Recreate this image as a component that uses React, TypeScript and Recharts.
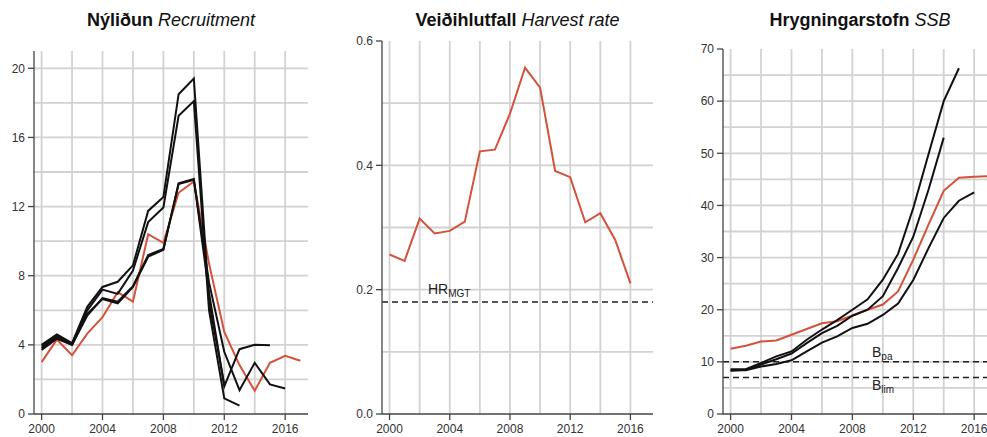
import React from "react";
import { LineChart, Line, XAxis, YAxis, CartesianGrid, ReferenceLine } from "recharts";

const years = [2000, 2001, 2002, 2003, 2004, 2005, 2006, 2007, 2008, 2009, 2010, 2011, 2012, 2013, 2014, 2015, 2016, 2017];
const xTicks = [2000, 2004, 2008, 2012, 2016];
const xGrid = [2000, 2002, 2004, 2006, 2008, 2010, 2012, 2014, 2016];

// Nýliðun / Recruitment (red = current assessment, black = retrospective runs)
const recruitment = [3.0, 4.3, 3.4, 4.65, 5.6, 7.05, 6.5, 10.4, 9.9, 12.8, 13.45, 8.7, 4.75, 2.83, 1.35, 2.96, 3.36, 3.08];
const recruitRetro2012 = [4.0, 4.6, 4.1, 6.2, 7.35, 7.65, 8.6, 11.75, 12.55, 18.5, 19.4, 6.5, 1.7];
const recruitRetro2013 = [3.9, 4.5, 4.05, 6.0, 7.2, 6.95, 8.3, 11.1, 11.95, 17.25, 18.1, 6.0, 0.9, 0.48];
const recruitRetro2015 = [3.8, 4.4, 4.0, 5.8, 6.65, 6.4, 7.35, 9.1, 9.5, 13.35, 13.6, 7.0, 1.6, 3.75, 4.0, 3.98];
const recruitRetro2016 = [3.7, 4.35, 4.0, 5.7, 6.7, 6.5, 7.4, 9.2, 9.55, 13.3, 13.55, 7.6, 3.6, 1.38, 2.96, 1.71, 1.48];
const recruitTicks = [0, 4, 8, 12, 16, 20];
const recruitGrid = [2, 4, 6, 8, 10, 12, 14, 16, 18, 20];

// Veiðihlutfall / Harvest rate
const harvestRate = [0.2565, 0.2463, 0.3143, 0.2903, 0.2945, 0.3095, 0.4225, 0.4252, 0.483, 0.557, 0.525, 0.391, 0.381, 0.3084, 0.323, 0.2795, 0.21];
const hrMgt = 0.18;
const harvestTicks = [0, 0.2, 0.4, 0.6];
const harvestGrid = [0.1, 0.2, 0.3, 0.4, 0.5];

// Hrygningarstofn / SSB
const ssb = [12.5, 13.1, 13.9, 14.1, 15.2, 16.3, 17.4, 17.8, 18.9, 20.0, 21.0, 23.5, 29.6, 36.3, 42.8, 45.3, 45.5, 45.6];
const ssbRetro2014 = [8.3, 8.5, 9.5, 10.5, 11.6, 13.6, 15.5, 16.9, 18.85, 20.0, 22.6, 28.0, 34.0, 43.0, 53.0];
const ssbRetro2015 = [8.6, 8.6, 9.8, 11.05, 12.0, 14.25, 16.2, 18.0, 20.0, 22.0, 25.75, 30.7, 39.5, 49.8, 60.0, 66.3];
const ssbRetro2016 = [8.4, 8.4, 9.1, 9.6, 10.3, 12.0, 13.7, 14.9, 16.5, 17.3, 19.0, 21.2, 25.7, 31.8, 37.6, 40.9, 42.5];
const bpa = 10;
const blim = 7;
const ssbTicks = [0, 10, 20, 30, 40, 50, 60, 70];
const ssbGrid = [5, 10, 15, 20, 25, 30, 35, 40, 45, 50, 55, 60, 65];

const RED = "#d4523c";
const BLACK = "#111";
const AXIS = "#444";
const GRID = "#d2d2d2";
const FONT = "'Liberation Sans', Arial, Helvetica, sans-serif";
const H = 437;

const val = (arr: number[], i: number) => (i < arr.length ? arr[i] : null);

const recruitRows = years.map((year, i) => ({
  year,
  red: val(recruitment, i),
  r12: val(recruitRetro2012, i),
  r13: val(recruitRetro2013, i),
  r15: val(recruitRetro2015, i),
  r16: val(recruitRetro2016, i),
}));
const harvestRows = years.map((year, i) => ({ year, red: val(harvestRate, i) }));
const ssbRows = years.map((year, i) => ({
  year,
  red: val(ssb, i),
  r14: val(ssbRetro2014, i),
  r15: val(ssbRetro2015, i),
  r16: val(ssbRetro2016, i),
}));

const tickStyle = { fontSize: 12, fill: "#333", fontFamily: FONT };

const subLabel = (main: string, sub: string, dx: number, dy: number) => (props: any) => {
  const vb = props.viewBox || { x: 0, y: 0 };
  return (
    <text x={vb.x + dx} y={vb.y + dy} fontSize={14} fill="#222" fontFamily={FONT}>
      {main}
      <tspan dy={3} fontSize={10}>{sub}</tspan>
    </text>
  );
};

type PanelProps = {
  left: number;
  width: number;
  marginTop: number;
  marginRight: number;
  marginLeft: number;
  yAxisWidth: number;
  yMax: number;
  yTicks: number[];
  yGrid: number[];
  yFormat?: (v: number) => string;
  rows: any[];
  blackKeys: string[];
  title: string;
  titleItalic: string;
  children?: React.ReactNode;
};

const Panel = (p: PanelProps) => {
  const plotLeft = p.left + p.marginLeft + p.yAxisWidth;
  const plotWidth = p.width - p.marginLeft - p.yAxisWidth - p.marginRight;
  return (
    <>
      <div
        style={{
          position: "absolute",
          left: plotLeft,
          width: plotWidth,
          top: 10,
          textAlign: "center",
          fontFamily: FONT,
          fontSize: 18,
          lineHeight: "20px",
          color: "#111",
          whiteSpace: "nowrap",
        }}
      >
        <span style={{ fontWeight: "bold" }}>{p.title}</span> <span style={{ fontStyle: "italic" }}>{p.titleItalic}</span>
      </div>
      <div style={{ position: "absolute", left: p.left, top: 0 }}>
        <LineChart
          width={p.width}
          height={H}
          data={p.rows}
          margin={{ top: p.marginTop, right: p.marginRight, bottom: 0, left: p.marginLeft }}
        >
          <CartesianGrid
            stroke={GRID}
            strokeWidth={1.8}
            verticalValues={xGrid}
            horizontalValues={p.yGrid}
          />
          <XAxis
            dataKey="year"
            type="number"
            domain={[1999.5, 2017.5]}
            ticks={xTicks}
            interval={0}
            height={23}
            tickSize={6}
            tickMargin={4}
            tick={tickStyle}
            axisLine={{ stroke: AXIS, strokeWidth: 1.3 }}
            tickLine={{ stroke: AXIS, strokeWidth: 1.3 }}
            allowDataOverflow
          />
          <XAxis
            xAxisId="top"
            orientation="top"
            dataKey="year"
            type="number"
            domain={[1999.5, 2017.5]}
            height={0}
            tick={false}
            tickLine={false}
            axisLine={{ stroke: AXIS, strokeWidth: 1.3 }}
          />
          <YAxis
            type="number"
            domain={[0, p.yMax]}
            ticks={p.yTicks}
            interval={0}
            width={p.yAxisWidth}
            tickSize={6}
            tickMargin={3}
            tick={tickStyle}
            tickFormatter={p.yFormat}
            axisLine={{ stroke: AXIS, strokeWidth: 1.3 }}
            tickLine={{ stroke: AXIS, strokeWidth: 1.3 }}
            allowDataOverflow
          />
          <YAxis
            yAxisId="right"
            orientation="right"
            type="number"
            domain={[0, p.yMax]}
            width={0}
            tick={false}
            tickLine={false}
            axisLine={{ stroke: AXIS, strokeWidth: 1.3 }}
          />
          {p.children}
          <Line
            dataKey="red"
            stroke={RED}
            strokeWidth={2}
            dot={false}
            type="linear"
            isAnimationActive={false}
          />
          {p.blackKeys.map((k) => (
            <Line
              key={k}
              dataKey={k}
              stroke={BLACK}
              strokeWidth={2}
              dot={false}
              type="linear"
              isAnimationActive={false}
            />
          ))}
        </LineChart>
      </div>
    </>
  );
};

export default function App() {
  return (
    <div
      style={{
        position: "fixed",
        left: 0,
        top: 0,
        width: 987,
        height: H,
        overflow: "hidden",
        background: "#fff",
      }}
    >
      <Panel
        left={0}
        width={330}
        marginTop={51}
        marginRight={22}
        marginLeft={4}
        yAxisWidth={30}
        yMax={21}
        yTicks={recruitTicks}
        yGrid={recruitGrid}
        rows={recruitRows}
        blackKeys={["r12", "r13", "r15", "r16"]}
        title="Nýliðun"
        titleItalic="Recruitment"
      />
      <Panel
        left={350}
        width={320}
        marginTop={41}
        marginRight={17}
        marginLeft={0}
        yAxisWidth={32}
        yMax={0.6}
        yTicks={harvestTicks}
        yGrid={harvestGrid}
        yFormat={(v: number) => v.toFixed(1)}
        rows={harvestRows}
        blackKeys={[]}
        title="Veiðihlutfall"
        titleItalic="Harvest rate"
      >
        <ReferenceLine
          y={hrMgt}
          stroke="#222"
          strokeWidth={1.5}
          strokeDasharray="6 4"
          label={subLabel("HR", "MGT", 46, -8)}
        />
      </Panel>
      <Panel
        left={690}
        width={320}
        marginTop={49}
        marginRight={13}
        marginLeft={0}
        yAxisWidth={33}
        yMax={70}
        yTicks={ssbTicks}
        yGrid={ssbGrid}
        rows={ssbRows}
        blackKeys={["r14", "r15", "r16"]}
        title="Hrygningarstofn"
        titleItalic="SSB"
      >
        <ReferenceLine
          y={bpa}
          stroke="#222"
          strokeWidth={1.5}
          strokeDasharray="6 4"
          label={subLabel("B", "pa", 149, -5)}
        />
        <ReferenceLine
          y={blim}
          stroke="#222"
          strokeWidth={1.5}
          strokeDasharray="6 4"
          label={subLabel("B", "lim", 149, 12)}
        />
      </Panel>
    </div>
  );
}
